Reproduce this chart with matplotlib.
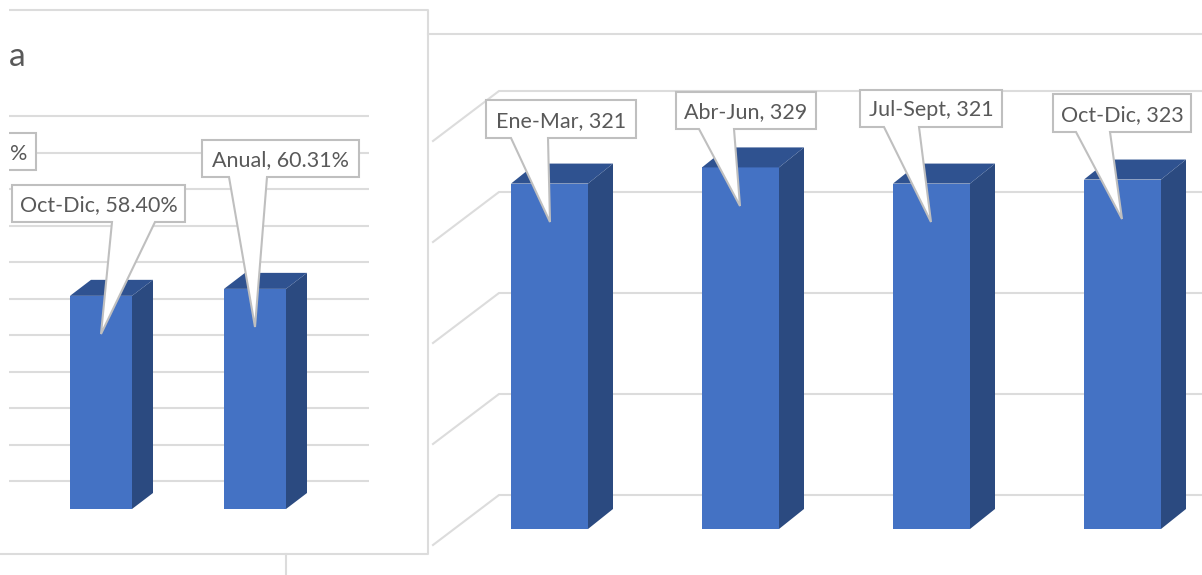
import matplotlib
matplotlib.use("Agg")
import matplotlib.pyplot as plt
from matplotlib.patches import Polygon

plt.rcParams['font.family'] = ['Lato', 'DejaVu Sans']

# ---- data ----
left_categories = ["Oct-Dic", "Anual"]
left_values = [58.40, 60.31]
left_grid = [0, 10, 20, 30, 40, 50, 60, 70, 80, 90, 100]
right_categories = ["Ene-Mar", "Abr-Jun", "Jul-Sept", "Oct-Dic"]
right_values = [321, 329, 321, 323]
right_grid = [150, 200, 250, 300, 350]

# ---- style ----
W, H = 1202, 575
FRONT, SIDE, TOP = "#4472C4", "#2B4A80", "#2F5290"
GRID, BORDER, TEXT = "#DCDCDC", "#BFBFBF", "#595959"
FS = 15.5

fig = plt.figure(figsize=(W / 100, H / 100), dpi=100, facecolor="white")


def chart_axes(x0, x_step, y0, y_per_unit, y_base):
    """Full-figure axes whose scales put category 0 at pixel x0 and y_base at pixel y0."""
    ax = fig.add_axes([0, 0, 1, 1], facecolor="none")
    ax.set_xlim(-x0 / x_step, (W - x0) / x_step)
    ax.set_ylim(y_base - (H - y0) / y_per_unit, y_base + y0 / y_per_unit)
    ax.axis("off")
    return ax


def bars(ax, values, base, width, dx, dy):
    for i, v in enumerate(values):
        ax.bar(i, v - base, width, bottom=base, align="edge", color=FRONT, zorder=3)
        ax.add_patch(Polygon([(i + width, base), (i + width + dx, base + dy),
                              (i + width + dx, v + dy), (i + width, v)],
                             closed=True, fc=SIDE, ec="none", zorder=3))
        ax.add_patch(Polygon([(i, v), (i + dx, v + dy), (i + width + dx, v + dy),
                              (i + width, v)], closed=True, fc=TOP, ec="none", zorder=3))


# ---- left chart ----
lstep, lscale = 154.0, 3.65
axl = chart_axes(70, lstep, 509, lscale, 0)
l_wall = 28 / lscale
axl.hlines([g + l_wall for g in left_grid], (9 - 70) / lstep, (369 - 70) / lstep,
           color=GRID, lw=1.5, zorder=1)
bars(axl, left_values, 0, 62 / lstep, 21 / lstep, 16 / lscale)

# ---- right chart ----
rstep, rscale = 191.0, 2.02
axr = chart_axes(511, rstep, 529, rscale, 150)
r_wall = 34 / rscale
r_front = 16 / rscale
x_back, x_front = (499 - 511) / rstep, (433 - 511) / rstep
for g in right_grid:
    axr.plot([x_front, x_back, (W - 511) / rstep],
             [g - r_front, g + r_wall, g + r_wall],
             color=GRID, lw=1.5, zorder=1, solid_joinstyle="miter")
bars(axr, right_values, 150, 77 / rstep, 25 / rstep, 20 / rscale)

# ---- overlay in pixel space: frames and callouts ----
ov = fig.add_axes([0, 0, 1, 1], facecolor="none")
ov.set_xlim(0, W)
ov.set_ylim(H, 0)
ov.axis("off")

ov.plot([9, 428, 428, 0], [10, 10, 554, 554], color=GRID, lw=1.5, zorder=1)
ov.plot([286, 286], [554, H], color=GRID, lw=1.5, zorder=1)
ov.plot([428, W], [34, 34], color=GRID, lw=1.5, zorder=1)
ov.text(9, 57, "a", fontsize=24, color=TEXT, ha="left", va="center", zorder=8)


def callout(text, x0, x1, y0, y1, bx0=None, bx1=None, tip=None, ty=None):
    pts = [(x0, y0), (x1, y0), (x1, y1)]
    if tip is not None:
        pts += [(bx1, y1), (tip, ty), (bx0, y1)]
    pts += [(x0, y1)]
    ov.add_patch(Polygon(pts, closed=True, fc="white", ec=BORDER, lw=1.5,
                         zorder=5, joinstyle="miter"))
    ov.text((x0 + x1) / 2, (y0 + y1) / 2 + 2, text, fontsize=FS, color=TEXT,
            ha="center", va="center", zorder=6)


callout("%", 2, 36, 133, 170)
callout(f"{left_categories[0]}, {left_values[0]:.2f}%", 12, 185, 185, 222, 112, 155, 101, 334)
callout(f"{left_categories[1]}, {left_values[1]:.2f}%", 202, 359, 140, 177, 229, 267, 255, 327)
callout(f"{right_categories[0]}, {right_values[0]}", 486, 636, 100, 138, 511, 548, 550, 222)
callout(f"{right_categories[1]}, {right_values[1]}", 676, 816, 92, 129, 699, 734, 740, 206)
callout(f"{right_categories[2]}, {right_values[2]}", 860, 1002, 90, 127, 884, 919, 931, 222)
callout(f"{right_categories[3]}, {right_values[3]}", 1053, 1191, 94, 132, 1076, 1110, 1122, 219)

# white margin at the crop's left edge
ov.add_patch(Polygon([(0, 0), (9, 0), (9, 550), (0, 550)], closed=True, fc="white", ec="none", zorder=7))

fig.savefig("out.png", dpi=100, facecolor="white")
